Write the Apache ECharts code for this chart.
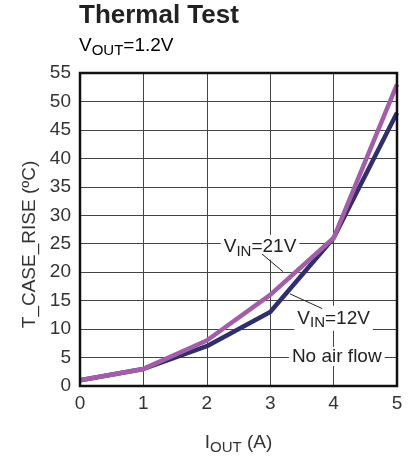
<!DOCTYPE html>
<html><head><meta charset="utf-8">
<script src="https://cdn.jsdelivr.net/npm/echarts@6/dist/echarts.min.js"></script>
<style>html,body{margin:0;padding:0;background:#fff}#c{width:413px;height:460px}</style>
</head><body><div id="c"></div>
<script>
const iout = [0, 1, 2, 3, 4, 5];
const vin12 = [1, 3, 7, 13, 26, 48];
const vin21 = [1, 3, 8, 16, 26, 53];
const xTicks = ['0','1','2','3','4','5'];
// annotations in data coordinates
const label21 = {x: 2.84, y: 24.4};
const label12 = {x: 4.0, y: 11.9};
const labelAir = {x: 4.05, y: 5.2};
const leader21 = [[2.87, 23.2], [3.20, 20.1]];
const leader12 = [[3.31, 16.2], [3.82, 13.6]];

const FONT = 'Liberation Sans, Arial, sans-serif';
const chart = echarts.init(document.getElementById('c'), null, {renderer: 'canvas'});
const opt = {
  animation: false,
  backgroundColor: '#fff',
  title: {
    text: 'Thermal Test',
    left: 79, top: 3, padding: 0,
    textStyle: {fontFamily: FONT, fontSize: 26, fontWeight: 'bold', color: '#222'}
  },
  grid: {left: 80, right: 16, top: 73, bottom: 72},
  xAxis: {
    type: 'value', min: 0, max: 5, interval: 1,
    axisLine: {show: false},
    axisTick: {show: false},
    splitLine: {show: true, lineStyle: {color: '#444', width: 1}},
    axisLabel: {fontFamily: FONT, fontSize: 19, color: '#333', margin: 8,
      formatter: v => xTicks[v]},
    name: '{n|I}{s|OUT}{n| (A)}',
    nameLocation: 'middle', nameGap: 44,
    nameTextStyle: {rich: {
      n: {fontFamily: FONT, fontSize: 19, color: '#333'},
      s: {fontFamily: FONT, fontSize: 15, color: '#333', padding: [10,0,0,0]}
    }}
  },
  yAxis: {
    type: 'value', min: 0, max: 55, interval: 5,
    axisLine: {show: false},
    axisTick: {show: false},
    splitLine: {show: true, lineStyle: {color: '#444', width: 1}},
    axisLabel: {fontFamily: FONT, fontSize: 19, color: '#333', margin: 9}
  },
  series: [
    {type: 'line', name: 'VIN=12V', data: iout.map((x,i)=>[x, vin12[i]]),
     symbol: 'none', z: 3, lineStyle: {color: '#2e2f6c', width: 4.5}},
    {type: 'line', name: 'VIN=21V', data: iout.map((x,i)=>[x, vin21[i]]),
     symbol: 'none', z: 4, lineStyle: {color: '#a45ea9', width: 4.5}}
  ]
};
chart.setOption(opt);

function px(p){ return chart.convertToPixel({gridIndex: 0}, p); }
const tl = px([0, 55]), br = px([5, 0]);
const sub = {
  n: {fontFamily: FONT, fontSize: 19, color: '#222'},
  s: {fontFamily: FONT, fontSize: 15, color: '#222', padding: [10,0,0,0]}
};
function textEl(p, txt, align){
  const q = px([p.x, p.y]);
  return {type: 'text', x: q[0], y: q[1], z: 10,
    style: {text: txt, rich: sub, align: align || 'center', verticalAlign: 'middle',
      backgroundColor: '#fff', padding: [0,3,0,3], fontFamily: FONT, fontSize: 19, fill: '#222'}};
}
function lineEl(seg){
  const a = px(seg[0]), b = px(seg[1]);
  return {type: 'line', z: 11, shape: {x1: a[0], y1: a[1], x2: b[0], y2: b[1]},
    style: {stroke: '#222', lineWidth: 1}};
}
chart.setOption({graphic: [
  {type: 'rect', z: 20, shape: {x: tl[0], y: tl[1], width: br[0]-tl[0], height: br[1]-tl[1]},
   style: {fill: 'none', stroke: '#111', lineWidth: 2.5}},
  {type: 'text', x: tl[0] - 1, y: tl[1] - 27, z: 10,
   style: {text: '{n|V}{s|OUT}{n|=1.2V}', rich: sub, align: 'left', verticalAlign: 'middle'}},
  {type: 'text', x: 30, y: (tl[1] + br[1]) / 2 + 15, rotation: Math.PI / 2, z: 10,
   style: {text: 'T_CASE_RISE (ºC)', fontFamily: FONT, fontSize: 19, fill: '#333',
     align: 'center', verticalAlign: 'middle'}},
  textEl(label21, '{n|V}{s|IN}{n|=21V}'),
  textEl(label12, '{n|V}{s|IN}{n|=12V}'),
  textEl(labelAir, '{n|No air flow}'),
  lineEl(leader21),
  lineEl(leader12)
]});
</script></body></html>
